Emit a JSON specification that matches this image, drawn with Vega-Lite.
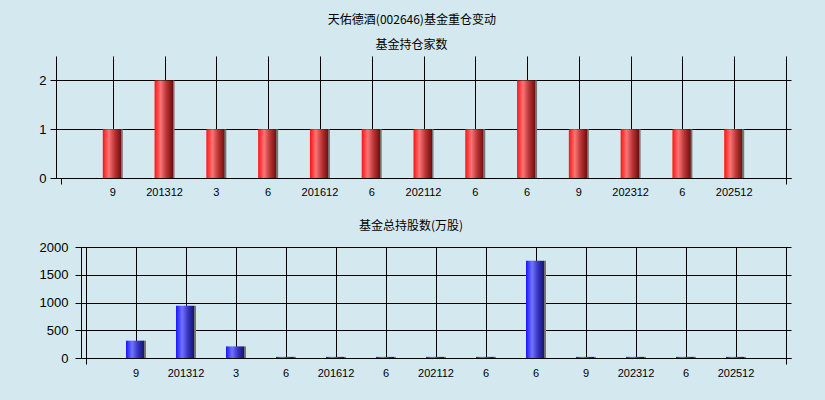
{
  "$schema": "https://vega.github.io/schema/vega-lite/v6.json",
  "background": "#d3e8ef",
  "padding": {"left": 38, "top": 14, "right": 35, "bottom": 22},
  "title": {"text": "天佑德酒(002646)基金重仓变动", "anchor": "middle", "offset": 12, "dx": -3},
  "datasets": {
    "d": [
      {"n": 1, "label": "9", "funds": 1, "shares": 312},
      {"n": 2, "label": "201312", "funds": 2, "shares": 942},
      {"n": 3, "label": "3", "funds": 1, "shares": 209},
      {"n": 4, "label": "6", "funds": 1, "shares": 20},
      {"n": 5, "label": "201612", "funds": 1, "shares": 20},
      {"n": 6, "label": "6", "funds": 1, "shares": 20},
      {"n": 7, "label": "202112", "funds": 1, "shares": 20},
      {"n": 8, "label": "6", "funds": 1, "shares": 20},
      {"n": 9, "label": "6", "funds": 2, "shares": 1753},
      {"n": 10, "label": "9", "funds": 1, "shares": 20},
      {"n": 11, "label": "202312", "funds": 1, "shares": 20},
      {"n": 12, "label": "6", "funds": 1, "shares": 20},
      {"n": 13, "label": "202512", "funds": 1, "shares": 20}
    ]
  },
  "config": {
    "view": {"stroke": null},
    "title": {"font": "Noto Sans CJK SC", "fontSize": 12, "fontWeight": "normal", "color": "#000000"},
    "axis": {
      "domainColor": "#000000", "domainWidth": 1,
      "gridColor": "#000000", "gridOpacity": 1, "gridWidth": 1,
      "tickColor": "#000000", "tickSize": 6,
      "labelColor": "#000000", "labelFont": "Liberation Sans", "labelFontSize": 13,
      "labelOverlap": false,
      "title": null
    }
  },
  "spacing": 22,
  "vconcat": [
    {
      "width": 735, "height": 122,
      "title": {"text": "基金持仓家数", "offset": 4, "dx": -12},
      "data": {"name": "d"},
      "layer": [
        {
          "mark": {"type": "bar", "width": 20, "color": {"gradient": "linear", "x1": 0, "y1": 0, "x2": 1, "y2": 0, "stops": [
            {"offset": 0, "color": "#ff1212"}, {"offset": 0.3, "color": "#fa7676"}, {"offset": 0.6, "color": "#b83434"}, {"offset": 0.9, "color": "#760e0e"}, {"offset": 0.91, "color": "#6e6e6e"}, {"offset": 1, "color": "#7a7a7a"}]}},
          "encoding": {
            "x": {"field": "n", "type": "quantitative", "scale": {"domain": [0, 14], "nice": false},
              "axis": {"values": [0,1,2,3,4,5,6,7,8,9,10,11,12,13,14], "tickCount": 15, "labels": false, "grid": true,
                "gridOpacity": {"condition": {"test": "datum.value == 0", "value": 0}, "value": 1},
                "tickOpacity": {"condition": {"test": "datum.value == 0 || datum.value == 14", "value": 1}, "value": 0}}},
            "y": {"field": "funds", "type": "quantitative", "scale": {"domain": [0, 2.5], "nice": false},
              "axis": {"values": [0, 1, 2], "tickCount": 3, "format": "d", "grid": true, "labelPadding": 4}}
          }
        },
        {
          "mark": {"type": "text", "baseline": "top", "dy": 9, "font": "Liberation Sans", "fontSize": 11, "color": "#000000"},
          "encoding": {
            "x": {"field": "n", "type": "quantitative"},
            "y": {"datum": 0},
            "text": {"field": "label"}
          }
        }
      ]
    },
    {
      "width": 735, "height": 111,
      "title": {"text": "基金总持股数(万股)", "offset": 8, "dx": -12.5},
      "data": {"name": "d"},
      "layer": [
        {
          "mark": {"type": "bar", "width": 20, "color": {"gradient": "linear", "x1": 0, "y1": 0, "x2": 1, "y2": 0, "stops": [
            {"offset": 0, "color": "#1515ff"}, {"offset": 0.3, "color": "#7373ff"}, {"offset": 0.6, "color": "#3434c0"}, {"offset": 0.9, "color": "#141470"}, {"offset": 0.91, "color": "#6e6e6e"}, {"offset": 1, "color": "#7a7a7a"}]}},
          "encoding": {
            "x": {"field": "n", "type": "quantitative", "scale": {"domain": [0, 14], "nice": false, "range": [25, 735]},
              "axis": {"values": [0,1,2,3,4,5,6,7,8,9,10,11,12,13,14], "tickCount": 15, "labels": false, "grid": true,
                "tickOpacity": {"condition": {"test": "datum.value == 0 || datum.value == 14", "value": 1}, "value": 0}}},
            "y": {"field": "shares", "type": "quantitative", "scale": {"domain": [0, 2000], "nice": false},
              "axis": {"values": [0, 500, 1000, 1500, 2000], "tickCount": 5, "format": "d", "grid": true, "labelPadding": 7, "offset": -25}}
          }
        },
        {
          "mark": {"type": "text", "baseline": "top", "dy": 9.5, "font": "Liberation Sans", "fontSize": 11, "color": "#000000"},
          "encoding": {
            "x": {"field": "n", "type": "quantitative"},
            "y": {"datum": 0},
            "text": {"field": "label"}
          }
        }
      ]
    }
  ]
}
